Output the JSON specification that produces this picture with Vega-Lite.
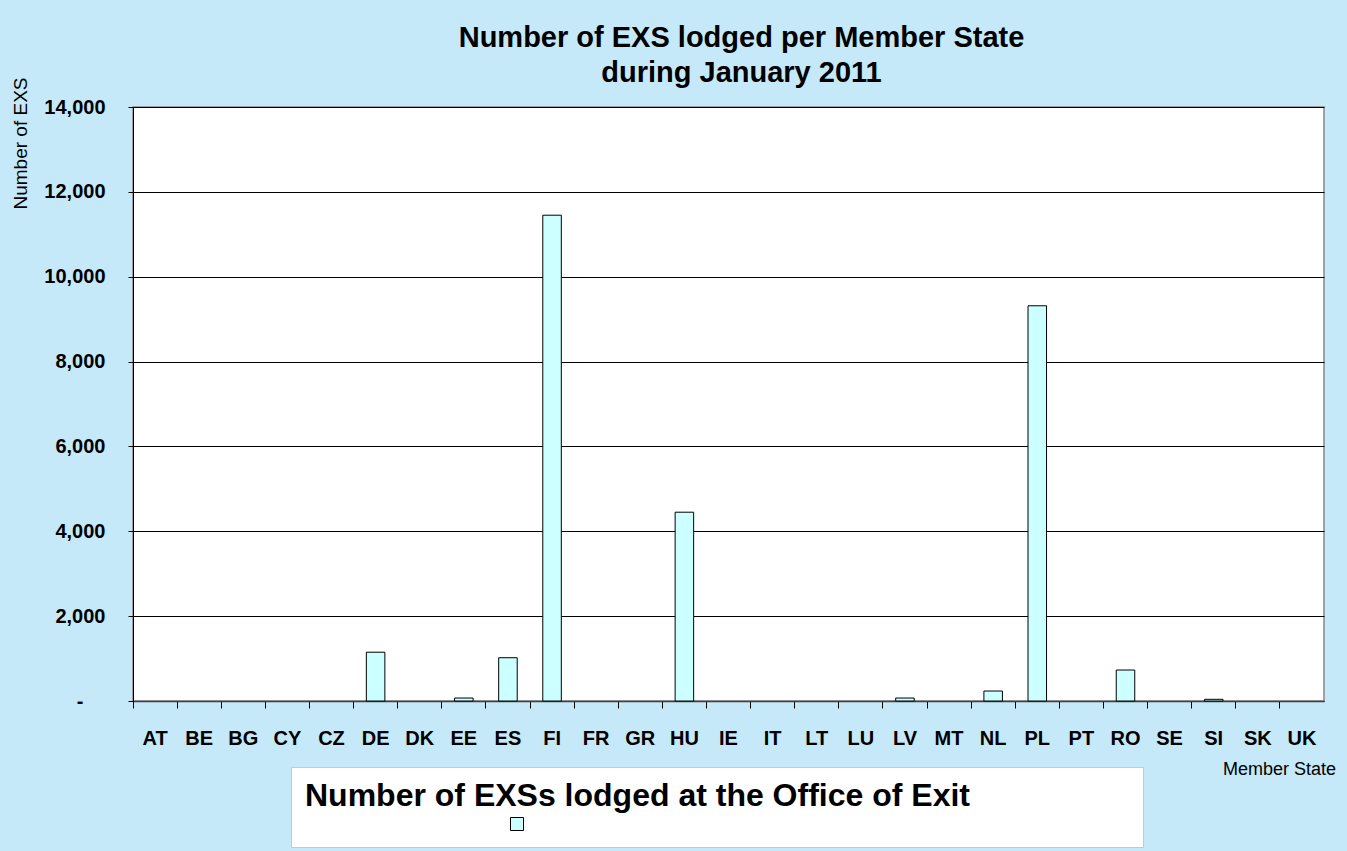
{
  "$schema": "https://vega.github.io/schema/vega-lite/v6.json",
  "autosize": {"type": "none"},
  "width": 1191,
  "height": 594,
  "padding": {"left": 133, "top": 107, "right": 23, "bottom": 150},
  "background": "#C6E9F9",
  "title": {
    "text": ["Number of EXS lodged per Member State", "during January 2011"],
    "fontSize": 29,
    "fontWeight": "bold",
    "font": "Liberation Sans",
    "color": "black",
    "anchor": "middle",
    "dx": 13,
    "lineHeight": 35,
    "offset": -11
  },
  "data": {
    "values": [
      {"state": "AT", "exs": 0, "series": "Number of EXSs lodged at the Office of Exit"},
      {"state": "BE", "exs": 0, "series": "Number of EXSs lodged at the Office of Exit"},
      {"state": "BG", "exs": 0, "series": "Number of EXSs lodged at the Office of Exit"},
      {"state": "CY", "exs": 0, "series": "Number of EXSs lodged at the Office of Exit"},
      {"state": "CZ", "exs": 0, "series": "Number of EXSs lodged at the Office of Exit"},
      {"state": "DE", "exs": 1150, "series": "Number of EXSs lodged at the Office of Exit"},
      {"state": "DK", "exs": 0, "series": "Number of EXSs lodged at the Office of Exit"},
      {"state": "EE", "exs": 70, "series": "Number of EXSs lodged at the Office of Exit"},
      {"state": "ES", "exs": 1020, "series": "Number of EXSs lodged at the Office of Exit"},
      {"state": "FI", "exs": 11450, "series": "Number of EXSs lodged at the Office of Exit"},
      {"state": "FR", "exs": 0, "series": "Number of EXSs lodged at the Office of Exit"},
      {"state": "GR", "exs": 0, "series": "Number of EXSs lodged at the Office of Exit"},
      {"state": "HU", "exs": 4450, "series": "Number of EXSs lodged at the Office of Exit"},
      {"state": "IE", "exs": 0, "series": "Number of EXSs lodged at the Office of Exit"},
      {"state": "IT", "exs": 0, "series": "Number of EXSs lodged at the Office of Exit"},
      {"state": "LT", "exs": 0, "series": "Number of EXSs lodged at the Office of Exit"},
      {"state": "LU", "exs": 0, "series": "Number of EXSs lodged at the Office of Exit"},
      {"state": "LV", "exs": 70, "series": "Number of EXSs lodged at the Office of Exit"},
      {"state": "MT", "exs": 0, "series": "Number of EXSs lodged at the Office of Exit"},
      {"state": "NL", "exs": 235, "series": "Number of EXSs lodged at the Office of Exit"},
      {"state": "PL", "exs": 9315, "series": "Number of EXSs lodged at the Office of Exit"},
      {"state": "PT", "exs": 0, "series": "Number of EXSs lodged at the Office of Exit"},
      {"state": "RO", "exs": 730, "series": "Number of EXSs lodged at the Office of Exit"},
      {"state": "SE", "exs": 0, "series": "Number of EXSs lodged at the Office of Exit"},
      {"state": "SI", "exs": 40, "series": "Number of EXSs lodged at the Office of Exit"},
      {"state": "SK", "exs": 0, "series": "Number of EXSs lodged at the Office of Exit"},
      {"state": "UK", "exs": 0, "series": "Number of EXSs lodged at the Office of Exit"}
    ]
  },
  "transform": [{"filter": "datum.exs > 0"}],
  "mark": {"type": "bar", "width": {"band": 0.42}, "stroke": "black", "strokeWidth": 1},
  "encoding": {
    "x": {
      "field": "state",
      "type": "nominal",
      "sort": null,
      "scale": {
        "domain": ["AT", "BE", "BG", "CY", "CZ", "DE", "DK", "EE", "ES", "FI", "FR", "GR", "HU", "IE", "IT", "LT", "LU", "LV", "MT", "NL", "PL", "PT", "RO", "SE", "SI", "SK", "UK"],
        "paddingInner": 0,
        "paddingOuter": 0
      },
      "axis": {
        "title": "Member State",
        "titleFont": "Liberation Sans",
        "titleFontSize": 18,
        "titleFontWeight": "normal",
        "titleColor": "black",
        "titleX": 1146,
        "titleY": 68,
        "titleAlign": "center",
        "titleBaseline": "middle",
        "labelAngle": 0,
        "labelFont": "Liberation Sans",
        "labelFontSize": 20,
        "labelFontWeight": "bold",
        "labelColor": "black",
        "labelPadding": 20,
        "bandPosition": 0,
        "tickSize": 7,
        "tickColor": "black",
        "domainColor": "#404040",
        "domainWidth": 1.5,
        "grid": false
      }
    },
    "y": {
      "field": "exs",
      "type": "quantitative",
      "scale": {"domain": [0, 14000], "nice": false},
      "axis": {
        "values": [0, 2000, 4000, 6000, 8000, 10000, 12000, 14000],
        "labelExpr": "datum.value === 0 ? '-' : format(datum.value, ',')",
        "labelFont": "Liberation Sans",
        "labelFontSize": 20,
        "labelFontWeight": "bold",
        "labelColor": "black",
        "labelPadding": {"condition": {"test": "datum.value === 0", "value": 45}, "value": 23},
        "tickSize": 5,
        "tickColor": "black",
        "domainColor": "black",
        "grid": true,
        "gridColor": "black",
        "gridWidth": 1,
        "title": "Number of EXS",
        "titleFont": "Liberation Sans",
        "titleFontSize": 19,
        "titleFontWeight": "normal",
        "titleColor": "black",
        "titleX": -113,
        "titleY": 36,
        "titleAngle": 270,
        "titleAlign": "center",
        "titleBaseline": "middle"
      }
    },
    "color": {
      "field": "series",
      "type": "nominal",
      "scale": {"range": ["#CCFFFF"]},
      "legend": {
        "orient": "none",
        "legendX": 158,
        "legendY": 660,
        "title": "Number of EXSs lodged at the Office of Exit",
        "titleFont": "Liberation Sans",
        "titleFontSize": 32,
        "titleFontWeight": "bold",
        "titleColor": "black",
        "titleLimit": 2000,
        "titlePadding": 4,
        "padding": 14,
        "fillColor": "white",
        "strokeColor": "#C8C8C8",
        "symbolType": "square",
        "symbolSize": 169,
        "symbolStrokeColor": "black",
        "symbolStrokeWidth": 1,
        "symbolOffset": 205,
        "labelFontSize": 8,
        "labelLimit": 0,
        "labelOpacity": 0,
        "labelOffset": 449
      }
    }
  },
  "config": {
    "font": "Liberation Sans",
    "view": {"fill": "white", "stroke": "#888888", "strokeWidth": 1.5}
  }
}
